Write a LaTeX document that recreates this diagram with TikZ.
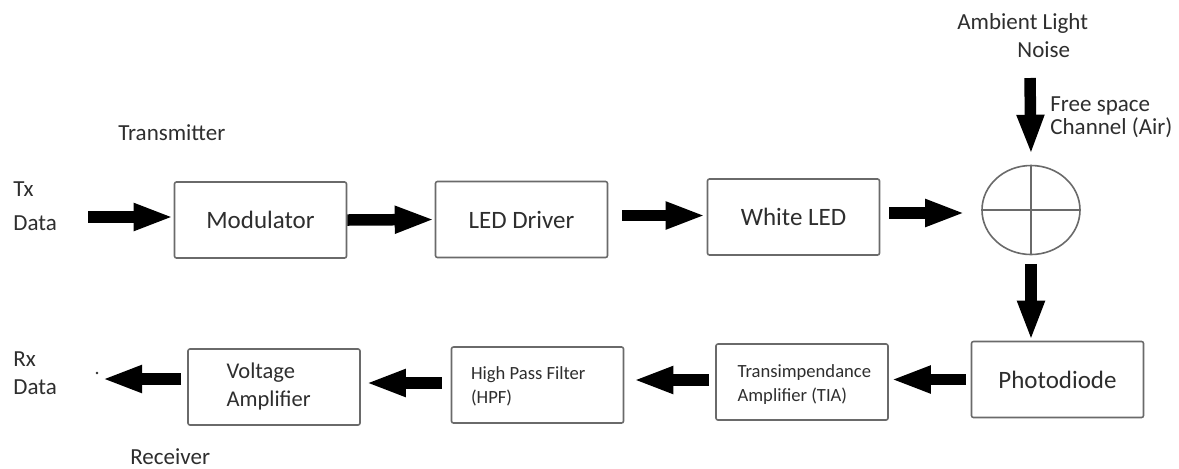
\documentclass[tikz,border=0pt]{standalone}
\usepackage{fontspec}
\setmainfont{Carlito}
\usetikzlibrary{arrows.meta,shapes.geometric}
\definecolor{txt}{HTML}{2E2E2E}
\definecolor{edgec}{HTML}{6A6A6A}
\begin{document}
\begin{tikzpicture}[x=0.5pt,y=-0.5pt,
  box/.style={draw=edgec,line width=0.8pt,rounded corners=1pt,minimum width=86pt,minimum height=38pt,inner sep=0pt,text=txt,font=\fontsize{12.5}{15}\selectfont},
  lbl/.style={text=txt,font=\fontsize{11.5}{14}\selectfont,inner sep=0pt,align=left},
  small/.style={text=txt,font=\fontsize{9.3}{12}\selectfont,inner sep=0pt,align=left},
  arr/.style={line width=5.75pt,-{Triangle[length=20pt,width=12.5pt]}},
]
\useasboundingbox (0,0) rectangle (1179,468);
\fill[white] (0,0) rectangle (1179,468);

% blocks
\node[box] (mod) at (260.5,220) {Modulator};
\node[box] (led) at (521.5,219.5) {LED Driver};
\node[box] (wled) at (793.5,217) {White LED};
\node[draw=edgec,line width=0.8pt,ellipse,minimum width=49pt,minimum height=44.5pt,inner sep=0pt] (sum) at (1031,210) {};
\draw[edgec,line width=0.8pt] (sum.north) -- (sum.south) (sum.west) -- (sum.east);
\node[box] (pd) at (1057.5,379.5) {Photodiode};
\node[box] (tia) at (802,382) {};
\node[box] (hpf) at (537.5,385) {};
\node[box] (va) at (274,387) {};
\node[small,anchor=west] (tiat) at ([xshift=11pt,yshift=-1.5pt]tia.west) {Transimpendance\\Amplifier (TIA)};
\node[small,anchor=west] (hpft) at ([xshift=10pt,yshift=-0.75pt]hpf.west) {High Pass Filter\\(HPF)};
\node[lbl,anchor=west,font=\fontsize{11.25}{14}\selectfont] (vat) at ([xshift=19.5pt,yshift=0.5pt]va.west) {Voltage\\Amplifier};

% labels
\node[lbl,anchor=west] (tx) at (13,206.5) {Tx\\[3pt]Data};
\node[lbl,anchor=west] (rx) at (13,373) {Rx\\Data};
\node[lbl,anchor=west] (trans) at (118,133) {Transmitter};
\node[lbl,anchor=west] (recv) at (130,457) {Receiver};
\node[lbl,anchor=west] (amb) at (957,36) {Ambient Light\\\hspace*{30pt}Noise};
\node[lbl,anchor=west,font=\fontsize{11.5}{11.5}\selectfont] (fs) at (1050,117) {Free space\\Channel (Air)};

% connectors
\coordinate (txs) at (88,217);
\draw[arr] (txs) -- (txs -| mod.west);
\draw[arr] (mod.east) -- (led.west);
\draw[arr] ([xshift=7pt,yshift=2pt]led.east) -- ([xshift=-0.5pt,yshift=0.75pt]wled.west);
\draw[arr] ([xshift=4.5pt,yshift=2pt]wled.east) -- ([xshift=-8pt,yshift=-1.5pt]sum.west);
\coordinate (ns) at (1030,78);
\draw[arr] (ns) -- ([yshift=5pt]sum.north);
\draw[arr] ([yshift=-4.25pt]sum.south) -- (sum.south |- pd.north);
\draw[arr] ([xshift=-2.5pt]pd.west) -- ([xshift=1pt,yshift=1.25pt]tia.east);
\draw[arr] ([xshift=-3pt,yshift=1pt]tia.west) -- ([xshift=4.5pt,yshift=2.5pt]hpf.east);
\draw[arr] ([xshift=-4.5pt,yshift=1pt]hpf.west) -- ([xshift=2.5pt,yshift=2pt]va.east);
\coordinate (rxd) at (102,379);
\draw[arr] ([xshift=-3pt,yshift=4pt]va.west) -- (rxd);
\coordinate (dot) at (97,373);
\fill[txt] (dot) circle (0.7pt);
\end{tikzpicture}
\end{document}
